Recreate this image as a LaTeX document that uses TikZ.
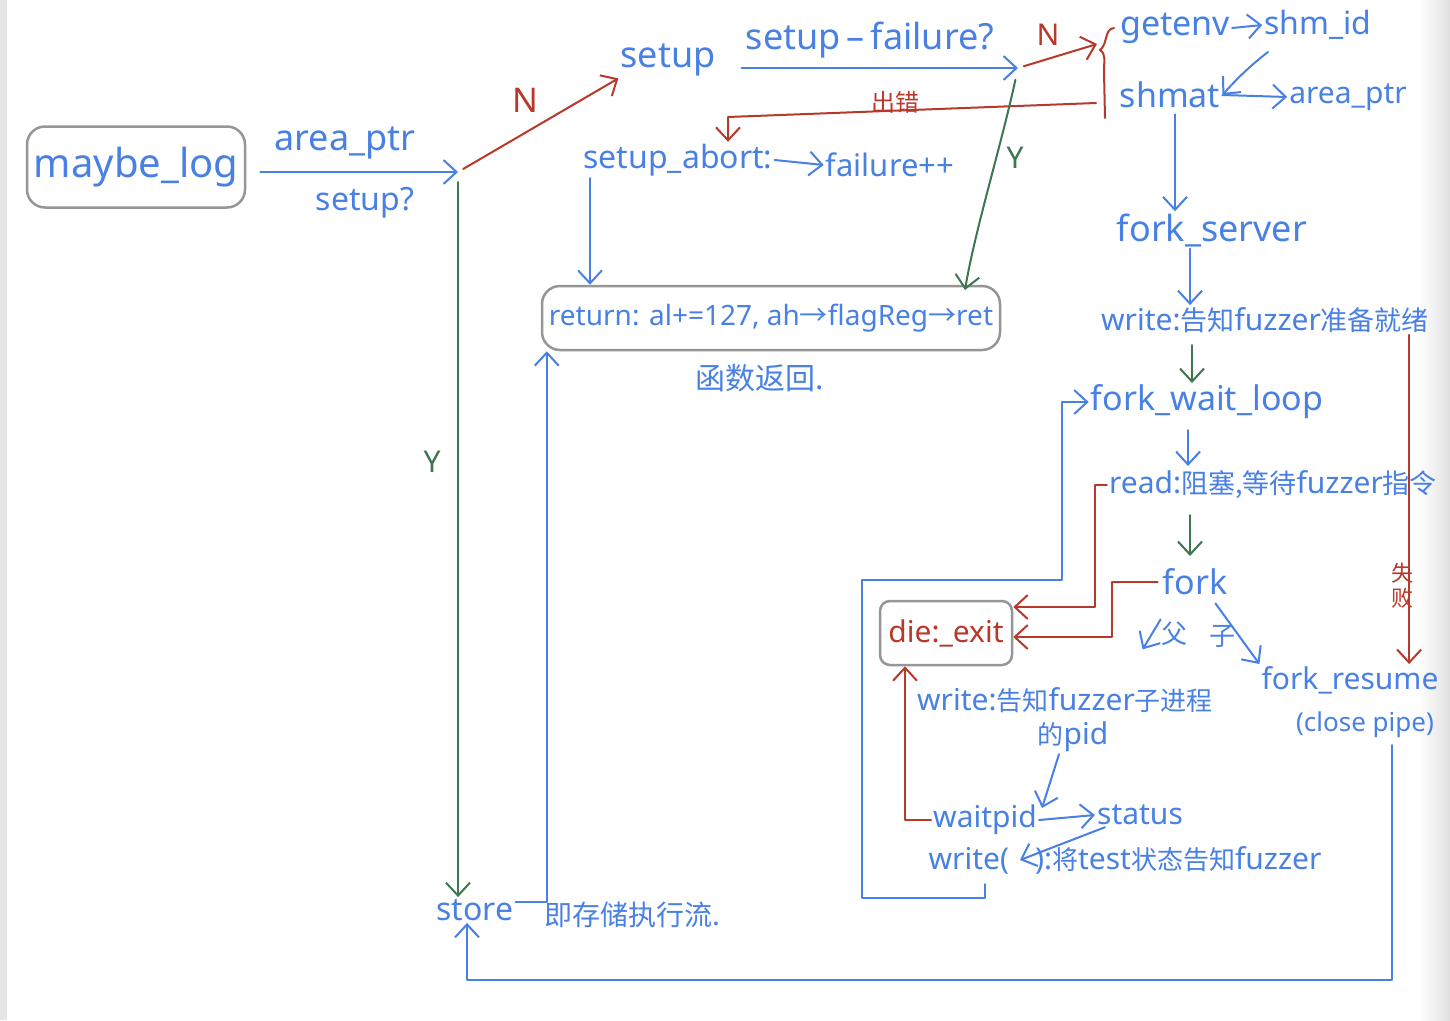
\documentclass[tikz,border=0pt]{standalone}
\usepackage{fontspec}
\setmainfont{Noto Sans}
\newfontfamily\cjk{Noto Sans CJK SC}
\usetikzlibrary{arrows.meta,calc}
\definecolor{hb}{RGB}{72,128,228}
\definecolor{hr}{RGB}{184,56,42}
\definecolor{hg}{RGB}{62,118,80}
\definecolor{hgr}{RGB}{150,150,150}
\newcommand{\zh}[2][26]{{\cjk\fontsize{#1}{#1}\selectfont #2}}
\tikzset{
  hw/.style={text=hb, inner sep=2pt, font=\fontsize{#1}{#1}\selectfont},
  hw/.default=30,
  bl/.style={draw=hb, line width=2pt, line cap=round, line join=round},
  rd/.style={draw=hr, line width=2pt, line cap=round, line join=round},
  gn/.style={draw=hg, line width=2pt, line cap=round, line join=round},
  tip/.style={-{Straight Barb[length=13pt,width=24pt,line width=2pt]}},
  gbox/.style={draw=hgr, line width=2.5pt, rounded corners=18pt}
}
\begin{document}
\begin{tikzpicture}[x=1pt,y=-1pt]
\useasboundingbox (0,0) rectangle (1450,1020);
\fill[white] (0,0) rectangle (1450,1020);
\fill[black!10] (0,0) rectangle (7,1020);
\fill[left color=white, right color=black!12] (1418,0) rectangle (1450,1020);

% ---- left part
\node[hw=40, gbox, minimum width=218, minimum height=81] (maybe) at (136,167) {maybe\_log};
\node[hw=36] (aptr1) at (345,143) {area\_ptr};
\node[hw=32] (setupq) at (365,203) {setup?};
\coordinate (d1) at (458,172);
\draw[bl,tip,shorten <=14pt] (maybe.east |- d1) -- (d1);

\node[hw=36] (setup) at (668,60) {setup};
\draw[rd,tip,shorten <=6pt] (d1) -- (setup.south west);
\node[hw=34, text=hr] (n1) at (525,100) {N};

\node[hw=36] (sfail) at (870,40) {setup\,–\,failure?};
\coordinate (d2) at (1018,68);
\draw[bl,tip,shorten <=24pt] (setup.east |- d2) -- (d2);

% ---- getenv / shmat
\node[hw=34] (getenv) at (1175,28) {getenv};
\node[hw=32] (shmid) at (1318,25) {shm\_id};
\node[hw=34] (shmat) at (1170,95) {shmat};
\node[hw=30] (aptr2) at (1348,97) {area\_ptr};
\draw[bl,tip] (getenv.east) -- (shmid.west);
\draw[bl,tip] (1268,52) .. controls (1255,62) and (1240,75) .. (shmat.east);
\draw[bl,tip] (shmat.east) -- (aptr2.west);
\draw[rd] (1114,28) .. controls (1104,29) and (1108,44) .. (1100,50)
          .. controls (1106,54) and (1104,60) .. (1104,72) -- (1105,118);
\coordinate (brt) at (1097,44);
\draw[rd,tip,shorten <=6pt] (d2) -- (brt);
\node[hw=30, text=hr] (n2) at (1048,35) {N};

% ---- error path
\coordinate (e0) at (1096,103);
\coordinate (e1) at (728,117);
\node[hw=32] (abort) at (678,160) {setup\_abort:};
\node[hw=31] (failpp) at (890,165) {failure++};
\draw[bl,tip] (abort.east) -- (failpp.west);
\draw[rd,tip] (e0) -- (e1) -- (e1 |- abort.north);
\node[text=hr, inner sep=1pt] (err) at (895,102) {\zh[24]{出错}};

% ---- return box
\node[hw=28, gbox, minimum width=458, minimum height=64] (ret) at (771,318)
  {return: al+=127, ah{\cjk →}flagReg{\cjk →}ret};
\node[text=hb] (retl) at (760,378) {\zh[30]{函数返回.}};
\draw[bl,tip] ([xshift=-88pt]abort.south) -- ([xshift=-88pt]abort.south |- ret.north);
\draw[gn,tip,shorten <=12pt] (d2) .. controls (1000,150) and (975,230) .. (965,290);
\node[hw=30, text=hg] (y1) at (1015,158) {Y};

% ---- store
\node[hw=32] (store) at (475,910) {store};
\node[text=hb] (storel) at (632,915) {\zh[28]{即存储执行流.}};
\draw[gn,tip,shorten <=10pt] (d1) -- (d1 |- store.north);
\node[hw=30, text=hg] (y2) at (432,462) {Y};
\draw[bl,tip] ([yshift=8pt]store.east) -| ([xshift=6pt]ret.south west);

% ---- right column
\node[hw=36] (fserver) at (1212,230) {fork\_server};
\draw[bl,tip] ([xshift=5pt,yshift=-4pt]shmat.south) -- ([xshift=5pt]shmat.south |- fserver.north);
\node[hw=30] (w1) at (1265,320) {write:\zh[27]{告知}fuzzer\zh[27]{准备就绪}};
\draw[bl,tip] ([xshift=-22pt]fserver.south) -- ([xshift=-22pt]fserver.south |- w1.north);
\node[hw=34] (fwl) at (1207,402) {fork\_wait\_loop};
\draw[gn,tip] (1192,345) -- (1192,383);
\node[hw=30] (rd) at (1273,485) {read:\zh[27]{阻塞,等待}fuzzer\zh[27]{指令}};
\draw[bl,tip] (1188,430) -- (1188,466);
\node[hw=34] (fork) at (1195,582) {fork};
\draw[gn,tip] (1190,515) -- (1190,556);
\node[text=hb] (fa) at (1174,634) {\zh[26]{父}};
\node[text=hb] (zi) at (1222,636) {\zh[26]{子}};
\node[hw=30] (fresume) at (1350,680) {fork\_resume};
\node[hw=26] (cpipe) at (1365,725) {(close pipe)};
\draw[bl,tip] ($(fork.south west)+(0,22)$) -- ++(-18,30);
\draw[bl,tip] ($(fork.south east)+(-14,6)$) -- (fresume.north west);
\draw[rd,tip] ([xshift=-22pt]w1.south east) -- ([xshift=-22pt]w1.south east |- fresume.north);
\node[text=hr, align=center, inner sep=0pt, font=\fontsize{22}{25}\selectfont] (sb) at (1402,586) {\zh[22]{失}\\\zh[22]{败}};

% ---- die box
\node[hw=30, text=hr, gbox, rounded corners=10pt, minimum width=132, minimum height=64] (die) at (946,633) {die:\_exit};
\draw[rd,tip] (rd.west) -- ++(-12,0) |- ([yshift=26pt]die.east);
\draw[rd,tip] ([xshift=-3pt]fork.west) -- ++(-46,0) |- ([yshift=-4pt]die.east);

\node[hw=30] (w2) at (1065,700) {write:\zh[26]{告知}fuzzer\zh[26]{子进程}};
\node[hw=30] (w2b) at (1073,737) {\zh[26]{的}pid};
\node[hw=30] (wait) at (985,820) {waitpid};
\node[hw=30] (status) at (1140,815) {status};
\draw[bl,tip] (wait.east) -- (status.west);
\coordinate (wp1) at (1042,808);
\draw[bl,tip] ([xshift=-14pt]w2b.south) -- (wp1);
\node[hw=30] (w3) at (1125,860) {write(\hspace{26pt}):\zh[26]{将}test\zh[26]{状态告知}fuzzer};
\coordinate (w3p) at (1020,860);
\draw[bl,tip] ([xshift=10pt]status.south west) -- (w3p);
\draw[rd,tip] (wait.west) -| ([xshift=-41pt]die.south);

% ---- loops
\coordinate (lp1) at (862,898);
\coordinate (lp2) at (862,580);
\coordinate (lp3) at (1062,580);
\draw[bl,tip] (985,884) |- (lp1) -- (lp2) -- (lp3) |- (fwl.west);
\coordinate (lb2) at (467,980);
\draw[bl,tip] (1392,745) |- (lb2) -- ([xshift=-8pt]store.south);
\end{tikzpicture}
\end{document}
